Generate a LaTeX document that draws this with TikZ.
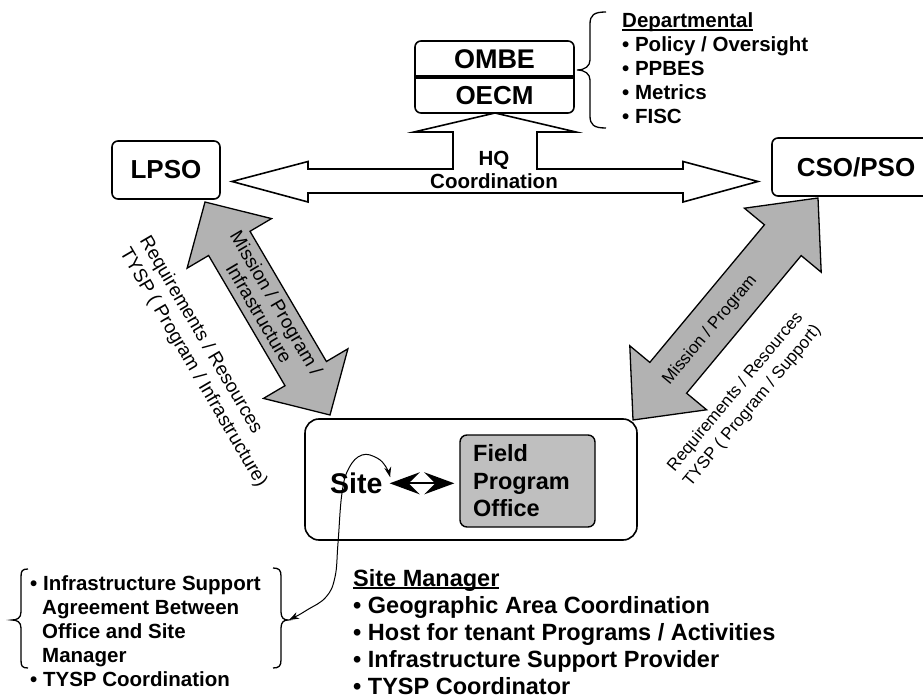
\documentclass[tikz,border=0pt]{standalone}
\usepackage{fontspec}
\setmainfont{Liberation Sans}
\usetikzlibrary{arrows.meta,calc}
\newsavebox\ulbox
\newcommand\myul[1]{\sbox\ulbox{#1}\rlap{\rule[-2.6pt]{\wd\ulbox}{1.6pt}}\usebox\ulbox}
\begin{document}
\begin{tikzpicture}[x=1pt,y=-1pt,
  box/.style={draw, line width=1.6pt, rounded corners=6pt, fill=white, inner sep=0pt},
  bigtxt/.style={font=\fontsize{26}{30}\selectfont\bfseries},
  lst/.style={anchor=base west, inner sep=0pt, font=\fontsize{20.5}{24}\selectfont\bfseries},
  mgr/.style={anchor=base west, inner sep=0pt, font=\fontsize{23.5}{27}\selectfont\bfseries},
  blockarrow/.style={draw, line width=1.6pt, fill=white, line join=miter},
  grayarrow/.style={draw, line width=1.3pt, fill=black!30, line join=miter},
  bracestyle/.style={draw, line width=1.3pt},
  rottxt/.style={inner sep=0pt, font=\fontsize{19}{23}\selectfont},
  rottxtr/.style={inner sep=0pt, font=\fontsize{17}{22}\selectfont}
]
\fill[white] (0,0) rectangle (923,700);
\useasboundingbox (0,0) rectangle (923,700);

% ---------- HQ block arrow ----------
\coordinate (hqL) at (232,181.5);
\coordinate (hqR) at (758,181.5);
\coordinate (hqT) at (495,113);
\path[blockarrow] (hqL) -- (308,161.5) -- (308,169) -- (453,169) -- (453,132) -- (414,132)
  -- (hqT) -- (576,132) -- (537,132) -- (537,169) -- (683,169) -- (683,161.5) -- (hqR)
  -- (683,202) -- (683,193) -- (308,193) -- (308,202) -- cycle;
\node[inner sep=0pt, font=\fontsize{20.5}{23}\selectfont\bfseries, align=center] (hq) at (494,170) {HQ\\Coordination};

% ---------- OMBE / OECM ----------
\node[box, minimum width=159pt, minimum height=72pt] (ombe) at (494.5,77) {};
\draw[line width=3.5pt] (ombe.west) -- (ombe.east);
\node[inner sep=0pt, font=\fontsize{27}{30}\selectfont\bfseries] (ombet) at (494.5,59.5) {OMBE};
\node[inner sep=0pt, font=\fontsize{26}{30}\selectfont\bfseries] (oecmt) at (494.5,96) {OECM};

% ---------- LPSO and CSO/PSO ----------
\node[box, bigtxt, minimum width=108pt, minimum height=58pt] (lpso) at (166,170) {LPSO};
\node[box, bigtxt, minimum width=168pt, minimum height=58pt] (cso) at (856,167) {CSO/PSO};

% ---------- Departmental brace and list ----------
\path[bracestyle] (606,12) .. controls (594,12) and (590,15) .. (590,24) -- (590,60)
  .. controls (590,66) and (585,70) .. (577,70) .. controls (585,70) and (590,74) .. (590,80)
  -- (590,116) .. controls (590,125) and (594,128) .. (606,128);
\node[lst] (d0) at (622,28) {\myul{Departmental}};
\node[lst] (d1) at (622,52) {• Policy / Oversight};
\node[lst] (d2) at (622,76) {• PPBES};
\node[lst] (d3) at (622,100) {• Metrics};
\node[lst] (d4) at (622,124) {• FISC};

% ---------- Site box ----------
\node[draw, line width=1.6pt, rounded corners=14pt, minimum width=332pt, minimum height=121pt, inner sep=0pt] (sitebox) at (471,479.5) {};
\node[draw, fill=black!25, line width=1.4pt, rounded corners=7pt, minimum width=135pt, minimum height=92pt, inner sep=0pt] (fpo) at (527.5,481) {};
\node[anchor=west, align=left, inner sep=0pt, font=\fontsize{23.5}{27.5}\selectfont\bfseries] (fpot) at (473,481) {Field\\Program\\Office};
\node[anchor=base west, inner sep=0pt, font=\fontsize{28.5}{30}\selectfont\bfseries] (site) at (330,493) {Site};
\coordinate (sa) at ([xshift=7pt,yshift=-0.5pt]site.east);
\coordinate (sb) at ($(sa -| fpo.west)+(-5,0)$);
\draw[line width=2pt, {Stealth[length=30pt 0, width=22pt 0, inset=11pt 0]}-{Stealth[length=30pt 0, width=22pt 0, inset=11pt 0]}] (sa) -- (sb);

% ---------- gray arrows ----------
\coordinate (la1) at (205,202);
\coordinate (la2) at (330,415);
\path[grayarrow] (la1) -- (271.5,218.6) -- (250.0,231.3) -- (326.4,361.5) -- (347.9,348.8)
  -- (la2) -- (263.5,398.4) -- (285.0,385.7) -- (208.6,255.5) -- (187.1,268.2) -- cycle;
\coordinate (ra1) at (818,198);
\coordinate (ra2) at (633,420);
\path[grayarrow] (ra1) -- (821.2,272.2) -- (801.2,255.6) -- (686.6,393.2) -- (706.6,409.8)
  -- (ra2) -- (629.8,345.8) -- (649.8,362.4) -- (764.4,224.8) -- (744.4,208.2) -- cycle;

\node[rottxt, rotate=-59.6, align=center, font=\fontsize{19}{20}\selectfont] (lmis) at (268,308) {Mission / Program /\\Infrastructure};
\node[rottxt, rotate=-59.6, align=left] (lreq) at (203,362) {Requirements / Resources\\TYSP ( Program / Infrastructure)};
\node[rottxtr, rotate=50.2] (rmis) at (710,330) {Mission / Program};
\node[rottxtr, rotate=50.2, align=center] (rreq) at (744,399) {Requirements / Resources\\TYSP ( Program / Support)};

% ---------- lower-left braces and list ----------
\path[bracestyle] (28,569) .. controls (22,569) and (21,571) .. (21,577) -- (21,612)
  .. controls (21,618) and (17,620) .. (12,620) .. controls (17,620) and (21,622) .. (21,628)
  -- (21,660) .. controls (21,666) and (22,668) .. (28,668);
\path[bracestyle] (273,568) .. controls (279,568) and (281,570) .. (281,576) -- (281,612)
  .. controls (281,618) and (284,620) .. (288,620) .. controls (284,620) and (281,622) .. (281,628)
  -- (281,660) .. controls (281,666) and (279,668) .. (273,668);
\coordinate (brtip) at (289,620);
\node[lst] (l1) at (30,590) {• Infrastructure Support};
\node[lst] (l2) at (42,614) {Agreement Between};
\node[lst] (l3) at (42,638) {Office and Site};
\node[lst] (l4) at (42,662) {Manager};
\node[lst] (l5) at (30,686) {• TYSP Coordination};

% ---------- curved arrow ----------
\coordinate (cend) at (390,477);
\draw[line width=1pt, {Stealth[length=10pt,width=7pt]}-{Stealth[length=10pt,width=7pt]}]
  plot[smooth, tension=0.7] coordinates {(brtip) (307,610) (326,597) (335,577) (338,543) (342,493) (349,468) (362,455) (377,458) (386,467) (cend)};

% ---------- Site Manager ----------
\node[mgr] (s0) at (353,586) {\myul{Site Manager}};
\node[mgr] (s1) at (353,613) {• Geographic Area Coordination};
\node[mgr] (s2) at (353,640) {• Host for tenant Programs / Activities};
\node[mgr] (s3) at (353,667) {• Infrastructure Support Provider};
\node[mgr] (s4) at (353,694) {• TYSP Coordinator};
\end{tikzpicture}
\end{document}
